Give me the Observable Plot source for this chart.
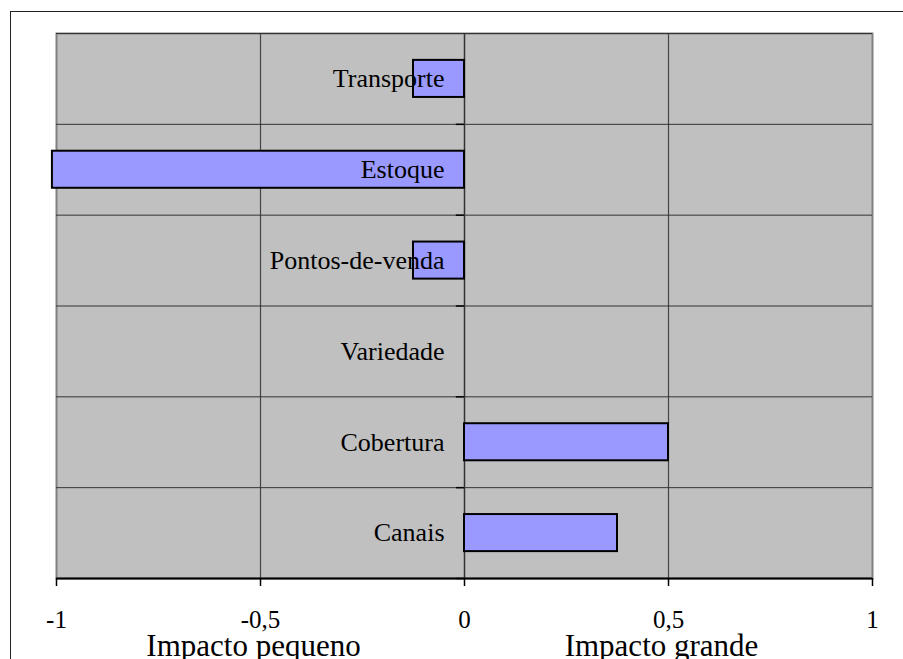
<!DOCTYPE html>
<html>
<head>
<meta charset="utf-8">
<script src="https://cdn.jsdelivr.net/npm/d3@7"></script>
<script src="https://cdn.jsdelivr.net/npm/@observablehq/plot@0.6"></script>
<style>
  html, body { margin: 0; padding: 0; background: #fff; }
  #wrap { position: relative; width: 903px; height: 659px; overflow: hidden; }
  #outer { position: absolute; left: 10px; top: 11px; width: 1000px; height: 1000px;
           border-left: 1px solid #222; border-top: 1px solid #222; pointer-events: none; }
  #chart { position: absolute; left: 0; top: 0; }
</style>
</head>
<body>
<div id="wrap"><div id="chart"></div><div id="outer"></div></div>
<script>
const categories = ["Transporte", "Estoque", "Pontos-de-venda", "Variedade", "Cobertura", "Canais"];
const values = [-0.125, -1.01, -0.125, 0, 0.5, 0.375];
const xTicks = [-1, -0.5, 0, 0.5, 1];
const gridX = [-0.5, 0.5];
const axisTitles = ["Impacto pequeno", "Impacto grande"];
const axisTitlePos = [-0.5, 0.5];

const data = categories.map((c, i) => ({category: c, value: values[i], i}));
const bounds = d3.range(categories.length + 1);
const titles = axisTitles.map((t, i) => ({t, x: axisTitlePos[i]}));
const font = "Liberation Serif, Times New Roman, serif";
const half = 0.204; // half bar thickness in band units

const chart = Plot.plot({
  width: 903,
  height: 659,
  marginLeft: 56,
  marginRight: 31,
  marginTop: 33,
  marginBottom: 81,
  style: {background: "transparent", fontFamily: font},
  x: {domain: [-1, 1], ticks: xTicks, tickFormat: d => String(d).replace(".", ","), label: null},
  y: {domain: [0, categories.length], reverse: true, axis: null},
  marks: [
    Plot.frame({fill: "#c0c0c0", stroke: "#808080", strokeWidth: 2}),
    Plot.ruleX(gridX, {stroke: "#444", strokeWidth: 1.2}),
    Plot.ruleY(bounds.slice(0, -1), {stroke: "#333", strokeWidth: 1}),
    Plot.ruleY(bounds.slice(1), {x1: -0.02, x2: 0, stroke: "#000", strokeWidth: 1.5}),
    Plot.ruleX([0], {stroke: "#333", strokeWidth: 1.5}),
    Plot.ruleY([categories.length], {stroke: "#000", strokeWidth: 2}),
    Plot.rect(data.filter(d => d.value !== 0), {
      x1: 0, x2: "value",
      y1: d => d.i + 0.5 - half, y2: d => d.i + 0.5 + half,
      fill: "#9999ff", stroke: "#000", strokeWidth: 2
    }),
    Plot.text(data, {x: 0, y: d => d.i + 0.5, text: "category", textAnchor: "end", dx: -20,
      fontSize: 26, fill: "#000", fontFamily: font}),
    Plot.axisX({ticks: xTicks, tickSize: 8, tickPadding: 24, fontSize: 25,
      tickFormat: d => String(d).replace(".", ","), stroke: "#000", fill: "#000", label: null, strokeWidth: 1.5}),
    Plot.text(titles, {x: "x", y: categories.length, text: "t", dx: -7, dy: 67.6,
      fontSize: 31, fill: "#000", fontFamily: font})
  ]
});
document.getElementById("chart").appendChild(chart);
</script>
</body>
</html>
